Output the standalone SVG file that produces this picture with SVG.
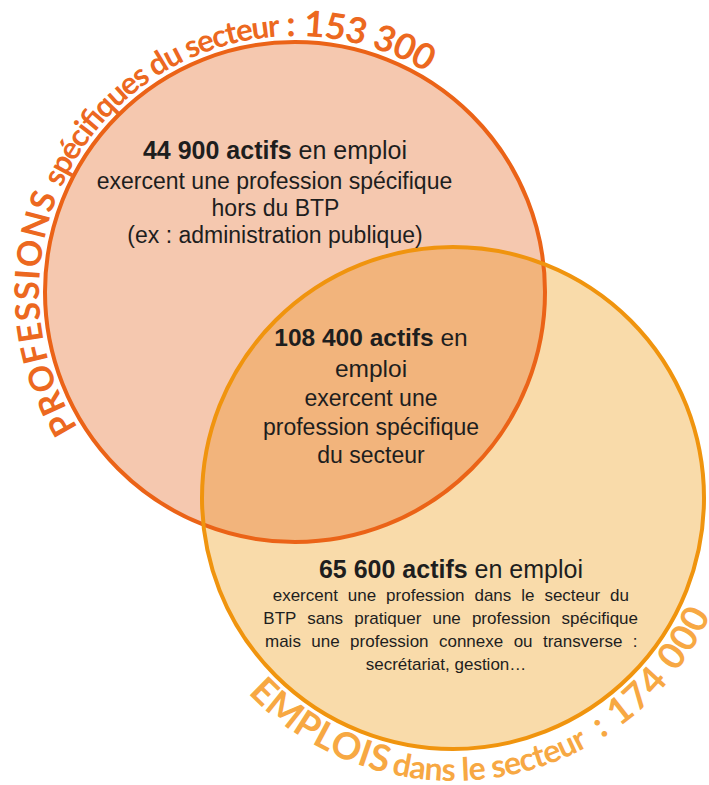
<svg xmlns="http://www.w3.org/2000/svg" width="709" height="785" viewBox="0 0 709 785">
<style>
.t{font-family:"Liberation Sans",Arial,sans-serif;fill:#1e1e1e;text-anchor:middle}
.b{font-weight:bold}
.arc1{font-family:Lato,"Open Sans",sans-serif;font-weight:bold;fill:#EC6820}
.arc2{font-family:Lato,"Open Sans",sans-serif;font-weight:bold;fill:#F7A843}
</style>
<defs>
<clipPath id="c1clip"><circle cx="295" cy="292" r="250"/></clipPath>
<path id="p1" d="M98.9,456.6 A256,256 0 0 1 491.1,127.4 A256,256 0 0 1 98.9,456.6"/>
<path id="p2" d="M207.9,639.5 A283,283 0 0 0 698.1,356.5 A283,283 0 0 0 207.9,639.5"/>
</defs>
<g id="professions-fill"><circle cx="295" cy="292" r="250" fill="#F5C8AF"/></g>
<g id="emplois-fill"><circle cx="453" cy="498" r="251" fill="#F9DBAA"/></g>
<g id="intersection"><circle cx="453" cy="498" r="251" fill="#F2B47C" clip-path="url(#c1clip)"/></g>
<g id="professions">
<circle cx="295" cy="292" r="250" fill="none" stroke="#EB6317" stroke-width="4"/>
<text class="arc1" font-size="34"><textPath href="#p1" startOffset="35.7" textLength="241" lengthAdjust="spacing">PROFESSIONS</textPath></text>
<text class="arc1" font-size="31"><textPath href="#p1" startOffset="286" textLength="280" lengthAdjust="spacing">spécifiques du secteur</textPath></text>
<text class="arc1" font-size="36"><textPath href="#p1" startOffset="572" textLength="147" lengthAdjust="spacing">: 153 300</textPath></text>
</g>
<g id="emplois">
<circle cx="453" cy="498" r="251" fill="none" stroke="#F0940E" stroke-width="4"/>
<text class="arc2" font-size="37"><textPath href="#p2" startOffset="67" textLength="162" lengthAdjust="spacing">EMPLOIS</textPath></text>
<text class="arc2" font-size="32"><textPath href="#p2" startOffset="234" textLength="204" lengthAdjust="spacing">dans le secteur</textPath></text>
<text class="arc2" font-size="37"><textPath href="#p2" startOffset="453" textLength="167" lengthAdjust="spacing">: 174 000</textPath></text>
</g>
<g id="label-professions-only">
<text class="t" x="275" y="159" font-size="25"><tspan class="b">44 900 actifs</tspan> en emploi</text>
<text class="t" x="274.5" y="189" font-size="23">exercent une profession spécifique</text>
<text class="t" x="275.5" y="216" font-size="23">hors du BTP</text>
<text class="t" x="275" y="243" font-size="23">(ex : administration publique)</text>
</g>
<g id="label-intersection">
<text class="t" x="371" y="346" font-size="24.5"><tspan class="b">108 400 actifs</tspan> en</text>
<text class="t" x="371" y="377" font-size="24.5">emploi</text>
<text class="t" x="371" y="406" font-size="23">exercent une</text>
<text class="t" x="371" y="435" font-size="23">profession spécifique</text>
<text class="t" x="371" y="463" font-size="23">du secteur</text>
</g>
<g id="label-emplois-only">
<text class="t" x="451" y="578" font-size="25"><tspan class="b">65 600 actifs</tspan> en emploi</text>
<text class="t" x="272.7" y="601" font-size="17" style="text-anchor:start" word-spacing="5.2">exercent une profession dans le secteur du</text>
<text class="t" x="263.3" y="624" font-size="17" style="text-anchor:start" word-spacing="6.4">BTP sans pratiquer une profession spécifique</text>
<text class="t" x="265" y="647" font-size="17" style="text-anchor:start" word-spacing="5.7">mais une profession connexe ou transverse :</text>
<text class="t" x="446" y="669.5" font-size="17">secrétariat, gestion…</text>
</g>
</svg>
